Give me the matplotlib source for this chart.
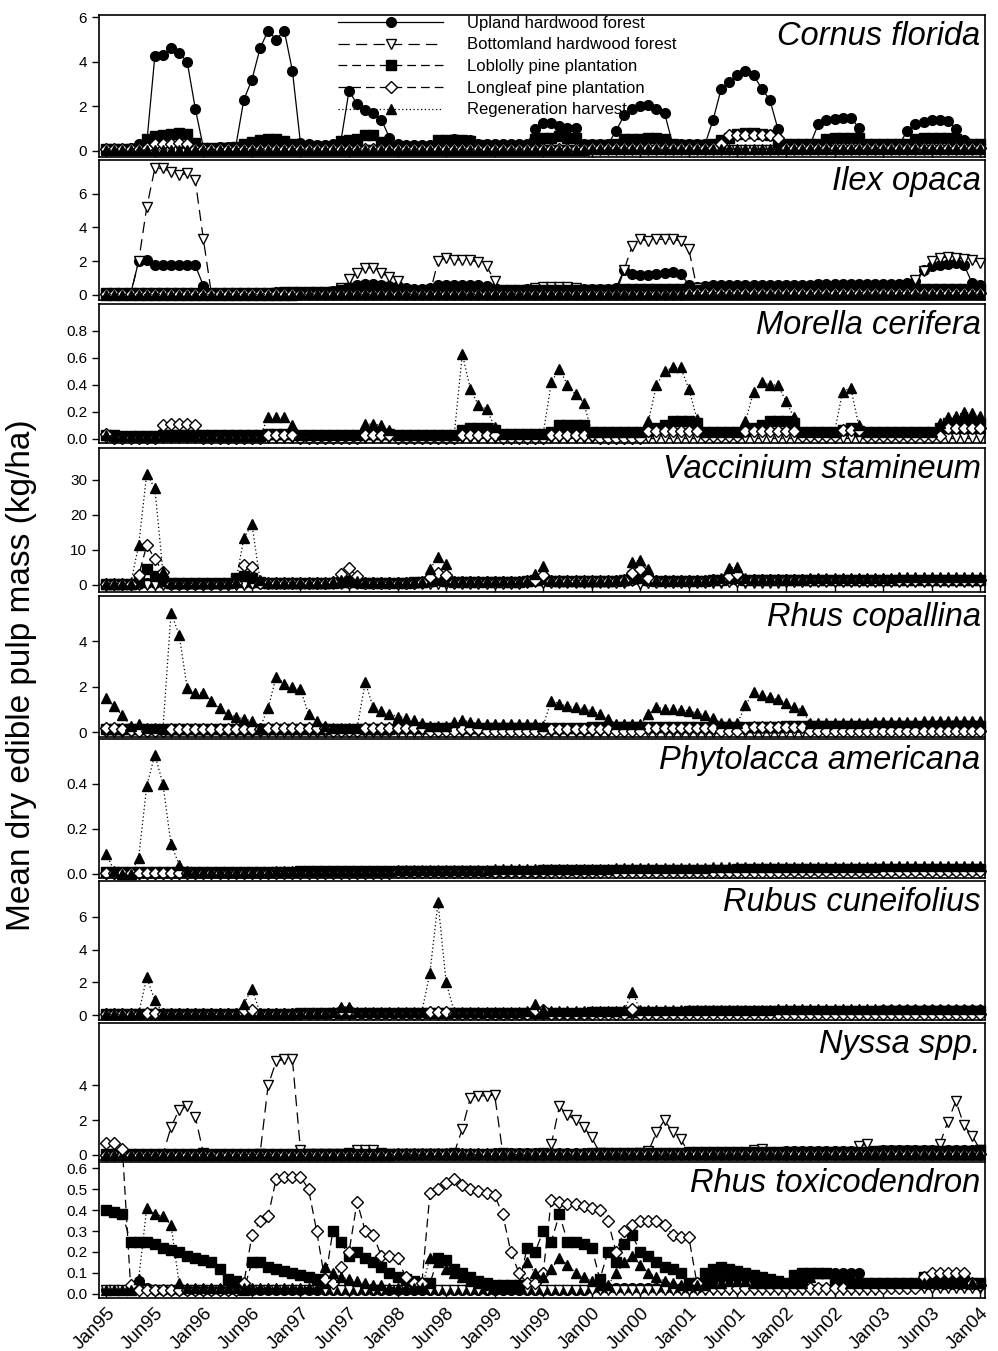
import numpy as np
import matplotlib
matplotlib.use("Agg")
import matplotlib.pyplot as plt

plt.rcParams['font.family'] = ['Liberation Sans', 'DejaVu Sans']

# ---- data: monthly values Jan95 .. Jan04 (109 months), one row per year ----
series_names = ['Upland hardwood forest', 'Bottomland hardwood forest',
                'Loblolly pine plantation', 'Longleaf pine plantation',
                'Regeneration harvest']

tick_labels = ['Jan95', 'Jun95', 'Jan96', 'Jun96', 'Jan97', 'Jun97', 'Jan98', 'Jun98',
               'Jan99', 'Jun99', 'Jan00', 'Jun00', 'Jan01', 'Jun01', 'Jan02', 'Jun02',
               'Jan03', 'Jun03', 'Jan04']

# Cornus florida
cornus_upland = [
    0.10, 0.10, 0.10, 0.12, 0.30, 0.35, 4.25, 4.30, 4.60, 4.40, 4.00, 1.90,
    0.15, 0.15, 0.18, 0.20, 0.20, 2.30, 3.20, 4.60, 5.40, 5.00, 5.40, 3.60,
    0.35, 0.30, 0.25, 0.25, 0.30, 0.45, 2.70, 2.10, 1.85, 1.70, 1.40, 0.60,
    0.30, 0.25, 0.25, 0.25, 0.25, 0.30, 0.50, 0.55, 0.50, 0.50, 0.30, 0.30,
    0.30, 0.30, 0.30, 0.30, 0.30, 1.00, 1.25, 1.25, 1.10, 1.05, 1.05, 0.30,
    0.30, 0.30, 0.30, 0.90, 1.60, 1.90, 2.00, 2.05, 1.90, 1.70, 0.30, 0.30,
    0.30, 0.30, 0.30, 1.40, 2.80, 3.10, 3.40, 3.60, 3.40, 2.80, 2.30, 1.00,
    0.30, 0.30, 0.30, 0.30, 1.20, 1.40, 1.45, 1.50, 1.50, 1.05, 0.30, 0.30,
    0.30, 0.30, 0.30, 0.90, 1.20, 1.30, 1.40, 1.40, 1.35, 1.00, 0.50, 0.30,
    0.30]
cornus_bottomland = [
    0.05, 0.05, 0.05, 0.05, 0.05, 0.10, 0.15, 0.15, 0.15, 0.15, 0.10, 0.05,
    0.05, 0.05, 0.05, 0.05, 0.05, 0.05, 0.05, 0.05, 0.05, 0.05, 0.05, 0.05,
    0.05, 0.05, 0.05, 0.05, 0.05, 0.05, 0.05, 0.05, 0.05, 0.05, 0.05, 0.05,
    0.05, 0.05, 0.05, 0.05, 0.05, 0.05, 0.05, 0.05, 0.05, 0.05, 0.05, 0.05,
    0.05, 0.05, 0.05, 0.05, 0.05, 0.05, 0.05, 0.05, 0.05, 0.05, 0.05, 0.05,
    0.05, 0.05, 0.05, 0.05, 0.05, 0.05, 0.05, 0.05, 0.05, 0.05, 0.05, 0.05,
    0.05, 0.05, 0.05, 0.05, 0.05, 0.05, 0.05, 0.05, 0.05, 0.05, 0.05, 0.05,
    0.05, 0.05, 0.05, 0.05, 0.05, 0.05, 0.05, 0.05, 0.05, 0.05, 0.05, 0.05,
    0.05, 0.05, 0.05, 0.05, 0.05, 0.05, 0.05, 0.05, 0.05, 0.05, 0.05, 0.05,
    0.05]
cornus_loblolly = [
    0.10, 0.10, 0.10, 0.10, 0.10, 0.55, 0.65, 0.70, 0.75, 0.80, 0.75, 0.35,
    0.15, 0.15, 0.15, 0.15, 0.20, 0.30, 0.40, 0.50, 0.55, 0.55, 0.45, 0.30,
    0.20, 0.20, 0.20, 0.20, 0.20, 0.45, 0.50, 0.55, 0.70, 0.70, 0.40, 0.20,
    0.20, 0.20, 0.20, 0.20, 0.20, 0.50, 0.50, 0.50, 0.50, 0.45, 0.25, 0.20,
    0.20, 0.20, 0.20, 0.20, 0.20, 0.55, 0.60, 0.60, 0.65, 0.60, 0.60, 0.25,
    0.25, 0.25, 0.25, 0.30, 0.55, 0.55, 0.55, 0.60, 0.60, 0.55, 0.30, 0.25,
    0.25, 0.25, 0.25, 0.30, 0.50, 0.60, 0.75, 0.80, 0.80, 0.75, 0.70, 0.40,
    0.30, 0.30, 0.30, 0.30, 0.30, 0.55, 0.60, 0.60, 0.60, 0.60, 0.30, 0.30,
    0.30, 0.30, 0.30, 0.30, 0.55, 0.60, 0.60, 0.60, 0.60, 0.55, 0.35, 0.30,
    0.30]
cornus_longleaf = [
    0.10, 0.10, 0.10, 0.10, 0.10, 0.15, 0.30, 0.30, 0.30, 0.35, 0.30, 0.10,
    0.10, 0.10, 0.10, 0.10, 0.10, 0.10, 0.10, 0.10, 0.10, 0.10, 0.10, 0.10,
    0.10, 0.10, 0.10, 0.10, 0.10, 0.10, 0.10, 0.10, 0.10, 0.10, 0.10, 0.10,
    0.10, 0.10, 0.10, 0.10, 0.10, 0.10, 0.10, 0.10, 0.10, 0.10, 0.10, 0.10,
    0.10, 0.10, 0.10, 0.10, 0.10, 0.10, 0.10, 0.10, 0.10, 0.10, 0.10, 0.10,
    0.15, 0.15, 0.15, 0.15, 0.15, 0.15, 0.15, 0.15, 0.15, 0.15, 0.15, 0.15,
    0.15, 0.15, 0.15, 0.15, 0.30, 0.70, 0.70, 0.70, 0.70, 0.70, 0.70, 0.60,
    0.15, 0.15, 0.15, 0.15, 0.15, 0.15, 0.15, 0.15, 0.15, 0.15, 0.15, 0.15,
    0.15, 0.15, 0.15, 0.15, 0.15, 0.15, 0.15, 0.15, 0.15, 0.15, 0.15, 0.15,
    0.15]
cornus_regen = [
    0.05, 0.05, 0.05, 0.05, 0.05, 0.05, 0.05, 0.05, 0.05, 0.05, 0.05, 0.05,
    0.05, 0.05, 0.05, 0.05, 0.05, 0.05, 0.05, 0.05, 0.05, 0.05, 0.05, 0.05,
    0.05, 0.05, 0.05, 0.05, 0.05, 0.05, 0.05, 0.05, 0.05, 0.05, 0.05, 0.05,
    0.05, 0.05, 0.05, 0.05, 0.05, 0.05, 0.05, 0.05, 0.05, 0.05, 0.05, 0.05,
    0.05, 0.05, 0.05, 0.05, 0.05, 0.05, 0.05, 0.05, 0.05, 0.05, 0.05, 0.05,
    0.08, 0.08, 0.08, 0.08, 0.08, 0.08, 0.08, 0.08, 0.08, 0.08, 0.08, 0.08,
    0.08, 0.08, 0.08, 0.08, 0.08, 0.08, 0.08, 0.08, 0.08, 0.08, 0.08, 0.08,
    0.08, 0.08, 0.08, 0.08, 0.08, 0.08, 0.08, 0.08, 0.08, 0.08, 0.08, 0.08,
    0.08, 0.08, 0.08, 0.08, 0.08, 0.08, 0.08, 0.08, 0.08, 0.08, 0.08, 0.08,
    0.08]

# Ilex opaca
ilex_upland = [
    0.05, 0.05, 0.05, 0.05, 2.00, 2.10, 1.80, 1.80, 1.75, 1.75, 1.80, 1.75,
    0.55, 0.10, 0.10, 0.10, 0.10, 0.10, 0.12, 0.12, 0.12, 0.15, 0.15, 0.15,
    0.15, 0.15, 0.15, 0.20, 0.25, 0.35, 0.50, 0.60, 0.65, 0.65, 0.60, 0.55,
    0.55, 0.40, 0.35, 0.35, 0.40, 0.60, 0.60, 0.60, 0.60, 0.60, 0.60, 0.55,
    0.40, 0.30, 0.30, 0.30, 0.35, 0.40, 0.40, 0.40, 0.40, 0.40, 0.40, 0.35,
    0.35, 0.35, 0.35, 0.40, 1.50, 1.25, 1.20, 1.20, 1.25, 1.30, 1.35, 1.25,
    0.60, 0.45, 0.55, 0.60, 0.60, 0.60, 0.60, 0.60, 0.60, 0.60, 0.60, 0.60,
    0.60, 0.60, 0.60, 0.60, 0.62, 0.62, 0.65, 0.65, 0.65, 0.65, 0.65, 0.65,
    0.65, 0.65, 0.65, 0.70, 0.80, 1.50, 1.70, 1.80, 1.85, 1.90, 1.80, 0.70,
    0.60]
ilex_bottomland = [
    0.00, 0.00, 0.00, 0.00, 2.00, 5.20, 7.50, 7.50, 7.30, 7.10, 7.20, 6.80,
    3.30, 0.05, 0.05, 0.05, 0.05, 0.05, 0.05, 0.05, 0.05, 0.05, 0.05, 0.05,
    0.05, 0.05, 0.10, 0.10, 0.20, 0.40, 0.95, 1.30, 1.60, 1.60, 1.30, 1.05,
    0.85, 0.20, 0.10, 0.10, 0.10, 2.00, 2.20, 2.10, 2.05, 2.05, 1.95, 1.70,
    0.85, 0.10, 0.10, 0.10, 0.20, 0.40, 0.45, 0.45, 0.45, 0.45, 0.40, 0.20,
    0.10, 0.10, 0.10, 0.10, 1.50, 2.90, 3.30, 3.20, 3.30, 3.30, 3.30, 3.20,
    2.70, 0.40, 0.10, 0.10, 0.10, 0.10, 0.10, 0.10, 0.10, 0.10, 0.10, 0.10,
    0.10, 0.10, 0.10, 0.10, 0.10, 0.10, 0.10, 0.10, 0.10, 0.10, 0.10, 0.10,
    0.10, 0.10, 0.10, 0.10, 0.90, 1.40, 2.00, 2.20, 2.25, 2.20, 2.15, 2.10,
    1.90]
ilex_loblolly = [
    0.10, 0.10, 0.10, 0.10, 0.10, 0.10, 0.10, 0.10, 0.10, 0.10, 0.10, 0.10,
    0.10, 0.10, 0.10, 0.10, 0.10, 0.10, 0.10, 0.10, 0.10, 0.10, 0.15, 0.15,
    0.15, 0.15, 0.15, 0.20, 0.20, 0.30, 0.35, 0.40, 0.40, 0.40, 0.40, 0.35,
    0.30, 0.30, 0.25, 0.25, 0.30, 0.35, 0.35, 0.35, 0.35, 0.35, 0.35, 0.35,
    0.30, 0.30, 0.30, 0.30, 0.30, 0.30, 0.30, 0.30, 0.30, 0.30, 0.30, 0.30,
    0.30, 0.30, 0.30, 0.30, 0.35, 0.35, 0.35, 0.35, 0.35, 0.35, 0.35, 0.35,
    0.35, 0.30, 0.30, 0.30, 0.30, 0.30, 0.30, 0.30, 0.30, 0.30, 0.30, 0.30,
    0.30, 0.30, 0.30, 0.30, 0.30, 0.30, 0.30, 0.30, 0.30, 0.30, 0.30, 0.30,
    0.30, 0.30, 0.30, 0.30, 0.35, 0.35, 0.35, 0.35, 0.35, 0.35, 0.35, 0.35,
    0.35]
ilex_longleaf = [
    0.05, 0.05, 0.05, 0.05, 0.05, 0.05, 0.05, 0.05, 0.05, 0.05, 0.05, 0.05,
    0.05, 0.05, 0.05, 0.05, 0.05, 0.05, 0.05, 0.05, 0.05, 0.05, 0.05, 0.05,
    0.05, 0.05, 0.05, 0.05, 0.05, 0.05, 0.05, 0.05, 0.05, 0.05, 0.05, 0.05,
    0.05, 0.05, 0.05, 0.05, 0.05, 0.05, 0.05, 0.05, 0.05, 0.05, 0.05, 0.05,
    0.05, 0.05, 0.05, 0.05, 0.05, 0.05, 0.05, 0.05, 0.05, 0.05, 0.05, 0.05,
    0.05, 0.05, 0.05, 0.05, 0.05, 0.05, 0.05, 0.05, 0.05, 0.05, 0.05, 0.05,
    0.10, 0.10, 0.10, 0.10, 0.10, 0.10, 0.10, 0.10, 0.10, 0.10, 0.10, 0.10,
    0.10, 0.10, 0.10, 0.10, 0.10, 0.10, 0.10, 0.10, 0.10, 0.10, 0.10, 0.10,
    0.10, 0.10, 0.10, 0.10, 0.10, 0.10, 0.10, 0.10, 0.10, 0.10, 0.10, 0.10,
    0.10]
ilex_regen = [
    0.02, 0.02, 0.02, 0.02, 0.02, 0.02, 0.02, 0.02, 0.02, 0.02, 0.02, 0.02,
    0.02, 0.02, 0.02, 0.02, 0.02, 0.02, 0.02, 0.02, 0.02, 0.02, 0.02, 0.02,
    0.03, 0.03, 0.03, 0.03, 0.03, 0.03, 0.03, 0.03, 0.03, 0.03, 0.03, 0.03,
    0.03, 0.03, 0.03, 0.03, 0.03, 0.03, 0.03, 0.03, 0.03, 0.03, 0.03, 0.03,
    0.05, 0.05, 0.05, 0.05, 0.05, 0.05, 0.05, 0.05, 0.05, 0.05, 0.05, 0.05,
    0.05, 0.05, 0.05, 0.05, 0.05, 0.05, 0.05, 0.05, 0.05, 0.05, 0.05, 0.05,
    0.05, 0.05, 0.05, 0.05, 0.05, 0.05, 0.05, 0.05, 0.05, 0.05, 0.05, 0.05,
    0.05, 0.05, 0.05, 0.05, 0.05, 0.05, 0.05, 0.05, 0.05, 0.05, 0.05, 0.05,
    0.05, 0.05, 0.05, 0.05, 0.05, 0.05, 0.05, 0.05, 0.05, 0.05, 0.05, 0.05,
    0.05]

# Morella cerifera
morella_upland = [
    0.03, 0.02, 0.02, 0.02, 0.02, 0.02, 0.02, 0.02, 0.02, 0.02, 0.02, 0.02,
    0.02, 0.02, 0.02, 0.02, 0.02, 0.02, 0.02, 0.02, 0.03, 0.03, 0.03, 0.03,
    0.03, 0.03, 0.03, 0.03, 0.03, 0.03, 0.03, 0.03, 0.03, 0.03, 0.03, 0.03,
    0.03, 0.03, 0.03, 0.03, 0.03, 0.03, 0.03, 0.03, 0.04, 0.04, 0.04, 0.04,
    0.04, 0.04, 0.04, 0.04, 0.04, 0.04, 0.04, 0.04, 0.05, 0.05, 0.05, 0.05,
    0.05, 0.05, 0.05, 0.05, 0.05, 0.05, 0.05, 0.05, 0.05, 0.05, 0.05, 0.05,
    0.05, 0.05, 0.05, 0.05, 0.05, 0.05, 0.05, 0.05, 0.05, 0.05, 0.05, 0.05,
    0.05, 0.05, 0.05, 0.05, 0.05, 0.05, 0.05, 0.05, 0.05, 0.05, 0.05, 0.05,
    0.05, 0.05, 0.05, 0.05, 0.05, 0.05, 0.05, 0.05, 0.05, 0.05, 0.05, 0.05,
    0.05]
morella_bottomland = [
    0.01, 0.01, 0.01, 0.01, 0.01, 0.01, 0.01, 0.01, 0.01, 0.01, 0.01, 0.01,
    0.01, 0.01, 0.01, 0.01, 0.01, 0.01, 0.01, 0.01, 0.01, 0.01, 0.01, 0.01,
    0.01, 0.01, 0.01, 0.01, 0.01, 0.01, 0.01, 0.01, 0.01, 0.01, 0.01, 0.01,
    0.01, 0.01, 0.01, 0.01, 0.01, 0.01, 0.01, 0.01, 0.01, 0.01, 0.01, 0.01,
    0.01, 0.01, 0.01, 0.01, 0.01, 0.01, 0.01, 0.01, 0.01, 0.01, 0.01, 0.01,
    0.01, 0.01, 0.01, 0.01, 0.01, 0.01, 0.01, 0.01, 0.01, 0.01, 0.01, 0.01,
    0.01, 0.01, 0.01, 0.01, 0.01, 0.01, 0.01, 0.01, 0.01, 0.01, 0.01, 0.01,
    0.01, 0.01, 0.01, 0.01, 0.01, 0.01, 0.01, 0.01, 0.01, 0.01, 0.01, 0.01,
    0.01, 0.01, 0.01, 0.01, 0.01, 0.01, 0.01, 0.01, 0.01, 0.01, 0.01, 0.01,
    0.01]
morella_loblolly = [
    0.03, 0.03, 0.02, 0.02, 0.02, 0.02, 0.02, 0.03, 0.03, 0.03, 0.03, 0.03,
    0.03, 0.03, 0.03, 0.03, 0.03, 0.03, 0.03, 0.03, 0.04, 0.04, 0.04, 0.04,
    0.03, 0.03, 0.03, 0.03, 0.03, 0.03, 0.03, 0.03, 0.04, 0.04, 0.04, 0.04,
    0.03, 0.03, 0.03, 0.03, 0.03, 0.03, 0.03, 0.03, 0.07, 0.08, 0.08, 0.08,
    0.07, 0.04, 0.04, 0.04, 0.04, 0.04, 0.04, 0.05, 0.10, 0.10, 0.10, 0.10,
    0.05, 0.05, 0.05, 0.05, 0.05, 0.05, 0.05, 0.06, 0.08, 0.10, 0.13, 0.13,
    0.13, 0.12, 0.05, 0.05, 0.05, 0.05, 0.05, 0.06, 0.08, 0.10, 0.13, 0.13,
    0.13, 0.12, 0.05, 0.05, 0.05, 0.05, 0.05, 0.07, 0.08, 0.06, 0.05, 0.05,
    0.05, 0.05, 0.05, 0.05, 0.05, 0.05, 0.05, 0.08, 0.12, 0.12, 0.12, 0.12,
    0.12]
morella_longleaf = [
    0.035, 0.01, 0.01, 0.01, 0.01, 0.01, 0.01, 0.10, 0.11, 0.11, 0.11, 0.10,
    0.01, 0.01, 0.01, 0.01, 0.01, 0.01, 0.01, 0.01, 0.03, 0.03, 0.03, 0.03,
    0.01, 0.01, 0.01, 0.01, 0.01, 0.01, 0.01, 0.01, 0.03, 0.03, 0.03, 0.03,
    0.01, 0.01, 0.01, 0.01, 0.01, 0.01, 0.01, 0.01, 0.03, 0.03, 0.03, 0.03,
    0.03, 0.01, 0.01, 0.01, 0.01, 0.01, 0.01, 0.03, 0.03, 0.03, 0.03, 0.03,
    0.03, 0.01, 0.01, 0.01, 0.01, 0.01, 0.01, 0.06, 0.06, 0.06, 0.06, 0.06,
    0.06, 0.06, 0.02, 0.02, 0.02, 0.02, 0.02, 0.06, 0.06, 0.06, 0.06, 0.06,
    0.06, 0.06, 0.02, 0.02, 0.02, 0.02, 0.02, 0.07, 0.07, 0.07, 0.02, 0.02,
    0.02, 0.02, 0.02, 0.02, 0.02, 0.02, 0.02, 0.02, 0.08, 0.08, 0.08, 0.08,
    0.08]
morella_regen = [
    0.03, 0.02, 0.02, 0.02, 0.02, 0.02, 0.02, 0.02, 0.02, 0.02, 0.02, 0.02,
    0.02, 0.02, 0.02, 0.02, 0.02, 0.02, 0.02, 0.02, 0.16, 0.16, 0.16, 0.10,
    0.03, 0.03, 0.03, 0.03, 0.03, 0.03, 0.03, 0.03, 0.11, 0.11, 0.10, 0.07,
    0.03, 0.03, 0.03, 0.03, 0.03, 0.03, 0.03, 0.03, 0.63, 0.37, 0.25, 0.22,
    0.09, 0.04, 0.04, 0.04, 0.04, 0.04, 0.04, 0.42, 0.52, 0.40, 0.33, 0.27,
    0.05, 0.05, 0.05, 0.05, 0.05, 0.05, 0.05, 0.13, 0.40, 0.50, 0.53, 0.53,
    0.37, 0.15, 0.05, 0.05, 0.05, 0.05, 0.05, 0.13, 0.35, 0.42, 0.40, 0.40,
    0.28, 0.16, 0.05, 0.05, 0.05, 0.05, 0.05, 0.35, 0.38, 0.10, 0.05, 0.05,
    0.05, 0.05, 0.05, 0.05, 0.05, 0.05, 0.05, 0.12, 0.16, 0.17, 0.20, 0.19,
    0.17]

# Vaccinium stamineum
vacc_upland = [
    0.3, 0.3, 0.3, 0.3, 0.4, 0.5, 0.5, 0.5, 0.4, 0.4, 0.4, 0.4,
    0.4, 0.4, 0.4, 0.5, 0.5, 0.6, 0.6, 0.5, 0.5, 0.5, 0.5, 0.5,
    0.5, 0.5, 0.6, 0.6, 0.6, 0.7, 0.7, 0.7, 0.7, 0.7, 0.7, 0.7,
    0.7, 0.7, 0.7, 0.8, 0.9, 1.0, 1.0, 0.9, 0.9, 0.9, 0.9, 0.9,
    0.9, 0.9, 0.9, 0.9, 1.0, 1.1, 1.2, 1.0, 1.0, 1.0, 1.0, 1.0,
    1.0, 1.0, 1.0, 1.1, 1.2, 1.3, 1.3, 1.2, 1.2, 1.2, 1.2, 1.2,
    1.2, 1.2, 1.2, 1.3, 1.3, 1.4, 1.4, 1.3, 1.3, 1.3, 1.3, 1.3,
    1.3, 1.3, 1.3, 1.4, 1.4, 1.4, 1.4, 1.4, 1.4, 1.4, 1.4, 1.4,
    1.4, 1.4, 1.5, 1.5, 1.5, 1.5, 1.5, 1.5, 1.5, 1.5, 1.5, 1.5,
    1.5]
vacc_bottomland = [
    0.1, 0.1, 0.1, 0.1, 0.1, 0.0, 0.0, 0.1, 0.1, 0.1, 0.1, 0.1,
    0.1, 0.1, 0.1, 0.1, 0.1, 0.0, 0.3, 0.2, 0.2, 0.2, 0.2, 0.2,
    0.2, 0.2, 0.2, 0.2, 0.3, 0.3, 0.3, 0.3, 0.3, 0.3, 0.3, 0.3,
    0.3, 0.3, 0.3, 0.3, 0.4, 0.4, 0.4, 0.4, 0.4, 0.4, 0.4, 0.4,
    0.4, 0.4, 0.4, 0.4, 0.5, 0.8, 0.5, 0.5, 0.5, 0.5, 0.5, 0.5,
    0.5, 0.5, 0.5, 0.5, 0.6, 1.0, 0.3, 0.6, 0.6, 0.6, 0.6, 0.6,
    0.6, 0.6, 0.6, 0.7, 0.7, 0.8, 0.8, 0.7, 0.7, 0.7, 0.7, 0.7,
    0.8, 0.8, 0.8, 0.8, 0.8, 0.8, 0.8, 0.8, 0.8, 0.8, 0.8, 0.8,
    0.9, 0.9, 0.9, 0.9, 0.9, 0.9, 0.9, 0.9, 0.9, 0.9, 0.9, 0.9,
    0.9]
vacc_loblolly = [
    0.3, 0.3, 0.3, 0.3, 0.8, 4.5, 2.5, 1.0, 0.5, 0.5, 0.5, 0.5,
    0.5, 0.5, 0.5, 0.6, 2.0, 2.5, 2.0, 0.8, 0.6, 0.6, 0.6, 0.6,
    0.6, 0.6, 0.6, 0.7, 0.7, 0.9, 1.0, 0.8, 0.7, 0.7, 0.7, 0.7,
    0.7, 0.7, 0.8, 0.8, 1.2, 1.5, 1.2, 0.9, 0.9, 0.9, 0.9, 0.9,
    0.9, 0.9, 0.9, 0.9, 1.0, 1.5, 1.6, 1.0, 1.0, 1.0, 1.0, 1.0,
    1.0, 1.0, 1.0, 1.1, 1.3, 2.0, 2.0, 1.5, 1.2, 1.2, 1.2, 1.2,
    1.2, 1.2, 1.2, 1.3, 1.5, 2.0, 2.0, 1.4, 1.3, 1.3, 1.3, 1.3,
    1.3, 1.3, 1.3, 1.4, 1.4, 1.4, 1.4, 1.4, 1.4, 1.4, 1.4, 1.4,
    1.5, 1.5, 1.5, 1.5, 1.5, 1.5, 1.5, 1.5, 1.5, 1.5, 1.5, 1.5,
    1.5]
vacc_longleaf = [
    0.2, 0.2, 0.2, 0.2, 2.7, 11.3, 7.5, 3.6, 0.4, 0.4, 0.4, 0.4,
    0.4, 0.4, 0.4, 0.4, 0.6, 5.6, 5.1, 0.6, 0.5, 0.5, 0.5, 0.5,
    0.5, 0.5, 0.5, 0.6, 0.8, 3.0, 4.8, 2.5, 0.7, 0.7, 0.7, 0.7,
    0.7, 0.7, 0.7, 0.8, 2.3, 3.5, 2.7, 0.9, 0.9, 0.9, 0.9, 0.9,
    0.9, 0.9, 0.9, 0.9, 1.0, 1.5, 2.8, 1.1, 1.0, 1.0, 1.0, 1.0,
    1.0, 1.0, 1.0, 1.1, 1.3, 3.5, 4.5, 2.0, 1.2, 1.2, 1.2, 1.2,
    1.2, 1.2, 1.2, 1.3, 1.4, 2.5, 3.0, 1.4, 1.3, 1.3, 1.3, 1.3,
    1.3, 1.3, 1.3, 1.4, 1.4, 1.4, 1.4, 1.4, 1.4, 1.4, 1.4, 1.4,
    1.5, 1.5, 1.5, 1.5, 1.5, 1.5, 1.5, 1.5, 1.5, 1.5, 1.5, 1.5,
    1.5]
vacc_regen = [
    0.3, 0.3, 0.3, 0.3, 11.3, 31.7, 27.5, 3.8, 0.6, 0.5, 0.5, 0.5,
    0.5, 0.5, 0.5, 0.5, 0.8, 13.3, 17.3, 1.5, 0.6, 0.6, 0.6, 0.6,
    0.6, 0.6, 0.7, 0.7, 0.8, 1.5, 1.8, 1.2, 0.8, 0.8, 0.8, 0.8,
    0.8, 0.8, 0.8, 0.9, 4.5, 8.0, 6.0, 1.2, 1.0, 1.0, 1.0, 1.0,
    1.0, 1.0, 1.0, 1.0, 1.2, 3.0, 5.5, 1.5, 1.2, 1.2, 1.2, 1.2,
    1.2, 1.2, 1.2, 1.3, 1.5, 6.5, 7.0, 4.5, 1.5, 1.5, 1.5, 1.5,
    1.5, 1.5, 1.5, 1.6, 2.0, 4.8, 5.2, 2.0, 1.8, 1.8, 1.8, 1.8,
    1.8, 1.8, 1.8, 1.9, 1.9, 1.9, 2.0, 2.0, 2.0, 2.0, 2.0, 2.1,
    2.1, 2.1, 2.2, 2.2, 2.2, 2.2, 2.3, 2.3, 2.3, 2.3, 2.3, 2.3,
    2.3]

# Rhus copallina
rcop_upland = [
    0.10, 0.10, 0.10, 0.10, 0.10, 0.10, 0.10, 0.10, 0.10, 0.10, 0.10, 0.10,
    0.10, 0.10, 0.10, 0.10, 0.10, 0.10, 0.10, 0.10, 0.10, 0.10, 0.10, 0.10,
    0.10, 0.10, 0.10, 0.10, 0.10, 0.10, 0.10, 0.10, 0.10, 0.10, 0.10, 0.10,
    0.15, 0.15, 0.15, 0.15, 0.15, 0.15, 0.15, 0.15, 0.15, 0.15, 0.15, 0.15,
    0.15, 0.15, 0.15, 0.15, 0.15, 0.15, 0.15, 0.15, 0.15, 0.15, 0.15, 0.15,
    0.20, 0.20, 0.20, 0.20, 0.20, 0.20, 0.20, 0.20, 0.20, 0.20, 0.20, 0.20,
    0.20, 0.20, 0.20, 0.20, 0.20, 0.20, 0.20, 0.20, 0.20, 0.20, 0.20, 0.20,
    0.25, 0.25, 0.25, 0.25, 0.25, 0.25, 0.25, 0.25, 0.25, 0.25, 0.25, 0.25,
    0.25, 0.25, 0.25, 0.25, 0.25, 0.25, 0.25, 0.25, 0.25, 0.25, 0.25, 0.25,
    0.25]
rcop_bottomland = [
    0.02, 0.02, 0.02, 0.02, 0.00, 0.00, 0.00, 0.00, 0.02, 0.02, 0.02, 0.02,
    0.02, 0.02, 0.02, 0.02, 0.02, 0.02, 0.02, 0.02, 0.02, 0.02, 0.02, 0.02,
    0.02, 0.02, 0.02, 0.02, 0.00, 0.00, 0.00, 0.00, 0.02, 0.02, 0.02, 0.02,
    0.02, 0.02, 0.02, 0.02, 0.00, 0.00, 0.00, 0.02, 0.02, 0.02, 0.00, 0.00,
    0.00, 0.00, 0.02, 0.02, 0.02, 0.02, 0.02, 0.02, 0.02, 0.02, 0.02, 0.02,
    0.02, 0.02, 0.02, 0.02, 0.02, 0.02, 0.02, 0.02, 0.02, 0.02, 0.02, 0.02,
    0.02, 0.02, 0.02, 0.02, 0.02, 0.02, 0.02, 0.02, 0.02, 0.02, 0.02, 0.02,
    0.02, 0.02, 0.02, 0.02, 0.02, 0.02, 0.02, 0.02, 0.02, 0.02, 0.02, 0.02,
    0.02, 0.02, 0.02, 0.02, 0.02, 0.02, 0.02, 0.02, 0.02, 0.02, 0.02, 0.02,
    0.02]
rcop_loblolly = [
    0.15, 0.15, 0.15, 0.15, 0.15, 0.15, 0.15, 0.15, 0.15, 0.15, 0.15, 0.15,
    0.15, 0.15, 0.15, 0.15, 0.15, 0.15, 0.15, 0.15, 0.15, 0.15, 0.15, 0.15,
    0.15, 0.15, 0.15, 0.15, 0.15, 0.15, 0.15, 0.15, 0.15, 0.15, 0.15, 0.15,
    0.20, 0.20, 0.20, 0.20, 0.20, 0.20, 0.20, 0.20, 0.20, 0.20, 0.20, 0.20,
    0.20, 0.20, 0.20, 0.20, 0.20, 0.20, 0.20, 0.20, 0.20, 0.20, 0.20, 0.20,
    0.25, 0.25, 0.25, 0.25, 0.25, 0.25, 0.25, 0.25, 0.25, 0.25, 0.25, 0.25,
    0.25, 0.25, 0.25, 0.25, 0.25, 0.25, 0.25, 0.25, 0.25, 0.25, 0.25, 0.25,
    0.30, 0.30, 0.30, 0.30, 0.30, 0.30, 0.30, 0.30, 0.30, 0.30, 0.30, 0.30,
    0.30, 0.30, 0.30, 0.30, 0.30, 0.30, 0.30, 0.30, 0.30, 0.30, 0.30, 0.30,
    0.30]
rcop_longleaf = [
    0.20, 0.20, 0.15, 0.10, 0.05, 0.05, 0.05, 0.05, 0.15, 0.15, 0.15, 0.15,
    0.15, 0.15, 0.15, 0.15, 0.15, 0.15, 0.15, 0.15, 0.20, 0.20, 0.20, 0.20,
    0.20, 0.20, 0.20, 0.20, 0.05, 0.05, 0.05, 0.05, 0.20, 0.20, 0.20, 0.20,
    0.20, 0.20, 0.20, 0.20, 0.05, 0.05, 0.05, 0.05, 0.15, 0.15, 0.15, 0.05,
    0.05, 0.05, 0.05, 0.05, 0.05, 0.05, 0.05, 0.15, 0.15, 0.15, 0.15, 0.15,
    0.15, 0.15, 0.15, 0.05, 0.05, 0.05, 0.05, 0.20, 0.20, 0.20, 0.20, 0.20,
    0.20, 0.20, 0.20, 0.20, 0.05, 0.05, 0.05, 0.20, 0.25, 0.25, 0.25, 0.25,
    0.25, 0.25, 0.25, 0.05, 0.05, 0.05, 0.05, 0.05, 0.05, 0.05, 0.05, 0.05,
    0.05, 0.05, 0.05, 0.05, 0.05, 0.05, 0.05, 0.05, 0.05, 0.05, 0.05, 0.05,
    0.05]
rcop_regen = [
    1.50, 1.15, 0.75, 0.30, 0.35, 0.20, 0.20, 0.15, 5.25, 4.30, 1.95, 1.75,
    1.75, 1.40, 1.07, 0.80, 0.70, 0.60, 0.50, 0.20, 1.07, 2.45, 2.15, 2.00,
    1.90, 0.80, 0.50, 0.30, 0.20, 0.20, 0.20, 0.20, 2.20, 1.10, 0.95, 0.80,
    0.70, 0.65, 0.55, 0.40, 0.30, 0.30, 0.30, 0.45, 0.55, 0.45, 0.40, 0.35,
    0.35, 0.35, 0.35, 0.35, 0.35, 0.35, 0.30, 1.40, 1.25, 1.15, 1.10, 1.05,
    0.95, 0.80, 0.60, 0.35, 0.35, 0.35, 0.35, 0.80, 1.10, 1.05, 1.05, 1.00,
    0.95, 0.85, 0.75, 0.65, 0.40, 0.40, 0.40, 1.20, 1.80, 1.65, 1.55, 1.45,
    1.30, 1.10, 1.00, 0.40, 0.40, 0.40, 0.40, 0.40, 0.40, 0.40, 0.40, 0.45,
    0.45, 0.45, 0.45, 0.45, 0.45, 0.50, 0.50, 0.50, 0.50, 0.50, 0.50, 0.50,
    0.50]

# Phytolacca americana
phyt_upland = [
    0.005, 0.005, 0.005, 0.005, 0.005, 0.005, 0.005, 0.005, 0.005, 0.005, 0.005, 0.005,
    0.006, 0.006, 0.006, 0.006, 0.006, 0.006, 0.007, 0.007, 0.007, 0.007, 0.007, 0.007,
    0.008, 0.008, 0.008, 0.008, 0.008, 0.008, 0.009, 0.009, 0.009, 0.009, 0.009, 0.009,
    0.010, 0.010, 0.010, 0.010, 0.010, 0.010, 0.011, 0.011, 0.011, 0.011, 0.011, 0.011,
    0.012, 0.012, 0.012, 0.012, 0.012, 0.012, 0.013, 0.013, 0.013, 0.013, 0.013, 0.013,
    0.014, 0.014, 0.014, 0.014, 0.014, 0.014, 0.015, 0.015, 0.015, 0.015, 0.015, 0.015,
    0.016, 0.016, 0.016, 0.016, 0.016, 0.016, 0.017, 0.017, 0.017, 0.017, 0.017, 0.017,
    0.018, 0.018, 0.018, 0.018, 0.018, 0.018, 0.019, 0.019, 0.019, 0.019, 0.019, 0.019,
    0.020, 0.020, 0.020, 0.020, 0.020, 0.020, 0.021, 0.021, 0.021, 0.021, 0.021, 0.021,
    0.021]
phyt_bottomland = [
    0.000, 0.000, 0.000, 0.000, 0.000, 0.000, 0.000, 0.000, 0.000, 0.000, 0.000, 0.000,
    0.001, 0.001, 0.001, 0.001, 0.001, 0.001, 0.001, 0.001, 0.001, 0.001, 0.001, 0.001,
    0.002, 0.002, 0.002, 0.002, 0.002, 0.002, 0.002, 0.002, 0.002, 0.002, 0.002, 0.002,
    0.003, 0.003, 0.003, 0.003, 0.003, 0.003, 0.003, 0.003, 0.003, 0.003, 0.003, 0.003,
    0.004, 0.004, 0.004, 0.004, 0.004, 0.004, 0.004, 0.004, 0.004, 0.004, 0.004, 0.004,
    0.005, 0.005, 0.005, 0.005, 0.005, 0.005, 0.005, 0.005, 0.005, 0.005, 0.005, 0.005,
    0.006, 0.006, 0.006, 0.006, 0.006, 0.006, 0.006, 0.006, 0.006, 0.006, 0.006, 0.006,
    0.007, 0.007, 0.007, 0.007, 0.007, 0.007, 0.007, 0.007, 0.007, 0.007, 0.007, 0.007,
    0.008, 0.008, 0.008, 0.008, 0.008, 0.008, 0.008, 0.008, 0.008, 0.008, 0.008, 0.008,
    0.008]
phyt_loblolly = [
    0.005, 0.005, 0.005, 0.005, 0.005, 0.005, 0.005, 0.005, 0.005, 0.006, 0.006, 0.006,
    0.007, 0.007, 0.007, 0.007, 0.007, 0.007, 0.008, 0.008, 0.008, 0.008, 0.008, 0.008,
    0.009, 0.009, 0.009, 0.009, 0.009, 0.009, 0.010, 0.010, 0.010, 0.010, 0.010, 0.010,
    0.011, 0.011, 0.011, 0.011, 0.011, 0.011, 0.012, 0.012, 0.012, 0.012, 0.012, 0.012,
    0.013, 0.013, 0.013, 0.013, 0.013, 0.013, 0.014, 0.014, 0.014, 0.014, 0.014, 0.014,
    0.015, 0.015, 0.015, 0.015, 0.015, 0.015, 0.016, 0.016, 0.016, 0.016, 0.016, 0.016,
    0.017, 0.017, 0.017, 0.017, 0.017, 0.017, 0.018, 0.018, 0.018, 0.018, 0.018, 0.018,
    0.019, 0.019, 0.019, 0.019, 0.019, 0.019, 0.020, 0.020, 0.020, 0.020, 0.020, 0.020,
    0.021, 0.021, 0.021, 0.021, 0.021, 0.021, 0.022, 0.022, 0.022, 0.022, 0.022, 0.022,
    0.022]
phyt_longleaf = [
    0.004, 0.003, 0.003, 0.003, 0.003, 0.003, 0.003, 0.003, 0.003, 0.003, 0.003, 0.003,
    0.003, 0.003, 0.003, 0.003, 0.003, 0.003, 0.003, 0.003, 0.003, 0.003, 0.003, 0.003,
    0.004, 0.004, 0.004, 0.004, 0.004, 0.004, 0.004, 0.004, 0.004, 0.004, 0.004, 0.004,
    0.005, 0.005, 0.005, 0.005, 0.005, 0.005, 0.005, 0.005, 0.005, 0.005, 0.005, 0.005,
    0.006, 0.006, 0.006, 0.006, 0.006, 0.006, 0.006, 0.006, 0.006, 0.006, 0.006, 0.006,
    0.007, 0.007, 0.007, 0.007, 0.007, 0.007, 0.007, 0.007, 0.007, 0.007, 0.007, 0.007,
    0.008, 0.008, 0.008, 0.008, 0.008, 0.008, 0.008, 0.008, 0.008, 0.008, 0.008, 0.008,
    0.009, 0.009, 0.009, 0.009, 0.009, 0.009, 0.009, 0.009, 0.009, 0.009, 0.009, 0.009,
    0.010, 0.010, 0.010, 0.010, 0.010, 0.010, 0.010, 0.010, 0.010, 0.010, 0.010, 0.010,
    0.010]
phyt_regen = [
    0.087, 0.010, 0.000, 0.000, 0.070, 0.390, 0.530, 0.400, 0.130, 0.040, 0.010, 0.006,
    0.006, 0.006, 0.006, 0.007, 0.007, 0.007, 0.008, 0.008, 0.008, 0.009, 0.009, 0.009,
    0.010, 0.010, 0.010, 0.011, 0.011, 0.011, 0.012, 0.012, 0.012, 0.013, 0.013, 0.013,
    0.014, 0.014, 0.014, 0.015, 0.015, 0.015, 0.016, 0.016, 0.016, 0.017, 0.017, 0.017,
    0.018, 0.018, 0.018, 0.019, 0.019, 0.019, 0.020, 0.020, 0.020, 0.021, 0.021, 0.021,
    0.022, 0.022, 0.022, 0.023, 0.023, 0.023, 0.024, 0.024, 0.024, 0.025, 0.025, 0.025,
    0.026, 0.026, 0.026, 0.027, 0.027, 0.027, 0.028, 0.028, 0.028, 0.029, 0.029, 0.029,
    0.030, 0.030, 0.030, 0.030, 0.030, 0.030, 0.031, 0.031, 0.031, 0.031, 0.031, 0.031,
    0.032, 0.032, 0.032, 0.032, 0.032, 0.032, 0.033, 0.033, 0.033, 0.033, 0.033, 0.033,
    0.033]

# Rubus cuneifolius
rubus_upland = [
    0.05, 0.05, 0.05, 0.05, 0.05, 0.05, 0.05, 0.05, 0.05, 0.05, 0.05, 0.05,
    0.08, 0.08, 0.08, 0.08, 0.08, 0.08, 0.08, 0.08, 0.08, 0.08, 0.08, 0.08,
    0.10, 0.10, 0.10, 0.10, 0.10, 0.10, 0.10, 0.10, 0.10, 0.10, 0.10, 0.10,
    0.12, 0.12, 0.12, 0.12, 0.12, 0.12, 0.12, 0.12, 0.12, 0.12, 0.12, 0.12,
    0.15, 0.15, 0.15, 0.15, 0.15, 0.15, 0.15, 0.15, 0.15, 0.15, 0.15, 0.15,
    0.18, 0.18, 0.18, 0.18, 0.18, 0.18, 0.18, 0.18, 0.18, 0.18, 0.18, 0.18,
    0.20, 0.20, 0.20, 0.20, 0.20, 0.20, 0.20, 0.20, 0.20, 0.20, 0.20, 0.20,
    0.25, 0.25, 0.25, 0.25, 0.25, 0.25, 0.25, 0.25, 0.25, 0.25, 0.25, 0.25,
    0.30, 0.30, 0.30, 0.30, 0.30, 0.30, 0.30, 0.30, 0.30, 0.30, 0.30, 0.30,
    0.30]
rubus_bottomland = [
    0.02, 0.02, 0.02, 0.02, 0.02, 0.02, 0.02, 0.02, 0.02, 0.02, 0.02, 0.02,
    0.02, 0.02, 0.02, 0.02, 0.02, 0.02, 0.02, 0.02, 0.02, 0.02, 0.02, 0.02,
    0.02, 0.02, 0.02, 0.02, 0.02, 0.02, 0.02, 0.02, 0.02, 0.02, 0.02, 0.02,
    0.02, 0.02, 0.02, 0.02, 0.02, 0.02, 0.02, 0.02, 0.02, 0.02, 0.02, 0.02,
    0.02, 0.02, 0.02, 0.02, 0.02, 0.02, 0.02, 0.02, 0.02, 0.02, 0.02, 0.02,
    0.02, 0.02, 0.02, 0.02, 0.02, 0.02, 0.02, 0.02, 0.02, 0.02, 0.02, 0.02,
    0.02, 0.02, 0.02, 0.02, 0.02, 0.02, 0.02, 0.02, 0.02, 0.02, 0.02, 0.02,
    0.02, 0.02, 0.02, 0.02, 0.02, 0.02, 0.02, 0.02, 0.02, 0.02, 0.02, 0.02,
    0.02, 0.02, 0.02, 0.02, 0.02, 0.02, 0.02, 0.02, 0.02, 0.02, 0.02, 0.02,
    0.02]
rubus_loblolly = [
    0.05, 0.05, 0.05, 0.05, 0.05, 0.05, 0.05, 0.05, 0.05, 0.05, 0.05, 0.05,
    0.08, 0.08, 0.08, 0.08, 0.08, 0.08, 0.08, 0.08, 0.08, 0.08, 0.08, 0.08,
    0.10, 0.10, 0.10, 0.10, 0.10, 0.10, 0.10, 0.10, 0.10, 0.10, 0.10, 0.10,
    0.12, 0.12, 0.12, 0.12, 0.12, 0.12, 0.12, 0.12, 0.12, 0.12, 0.12, 0.12,
    0.15, 0.15, 0.15, 0.15, 0.15, 0.15, 0.15, 0.15, 0.15, 0.15, 0.15, 0.15,
    0.18, 0.18, 0.18, 0.18, 0.18, 0.18, 0.18, 0.18, 0.18, 0.18, 0.18, 0.18,
    0.22, 0.22, 0.22, 0.22, 0.22, 0.22, 0.22, 0.22, 0.22, 0.22, 0.22, 0.22,
    0.25, 0.25, 0.25, 0.25, 0.25, 0.25, 0.25, 0.25, 0.25, 0.25, 0.25, 0.25,
    0.28, 0.28, 0.28, 0.28, 0.28, 0.28, 0.28, 0.28, 0.28, 0.28, 0.28, 0.28,
    0.28]
rubus_longleaf = [
    0.05, 0.05, 0.05, 0.05, 0.05, 0.15, 0.15, 0.05, 0.05, 0.05, 0.05, 0.05,
    0.05, 0.05, 0.05, 0.05, 0.05, 0.30, 0.30, 0.05, 0.05, 0.05, 0.05, 0.05,
    0.05, 0.05, 0.05, 0.05, 0.05, 0.30, 0.30, 0.05, 0.05, 0.05, 0.05, 0.05,
    0.05, 0.05, 0.05, 0.05, 0.20, 0.20, 0.20, 0.05, 0.05, 0.05, 0.05, 0.05,
    0.05, 0.05, 0.05, 0.05, 0.05, 0.30, 0.30, 0.05, 0.05, 0.05, 0.05, 0.05,
    0.05, 0.05, 0.05, 0.05, 0.05, 0.40, 0.05, 0.05, 0.05, 0.05, 0.05, 0.05,
    0.05, 0.05, 0.05, 0.05, 0.05, 0.05, 0.05, 0.05, 0.05, 0.05, 0.05, 0.05,
    0.05, 0.05, 0.05, 0.05, 0.05, 0.05, 0.05, 0.05, 0.05, 0.05, 0.05, 0.05,
    0.05, 0.05, 0.05, 0.05, 0.05, 0.05, 0.05, 0.05, 0.05, 0.05, 0.05, 0.05,
    0.05]
rubus_regen = [
    0.05, 0.05, 0.05, 0.05, 0.10, 2.30, 0.90, 0.10, 0.10, 0.10, 0.10, 0.10,
    0.10, 0.10, 0.10, 0.10, 0.10, 0.70, 1.60, 0.15, 0.15, 0.15, 0.15, 0.15,
    0.15, 0.15, 0.15, 0.15, 0.20, 0.50, 0.50, 0.20, 0.20, 0.20, 0.20, 0.20,
    0.20, 0.20, 0.20, 0.20, 2.60, 6.90, 2.00, 0.20, 0.20, 0.20, 0.20, 0.20,
    0.20, 0.20, 0.20, 0.20, 0.25, 0.70, 0.30, 0.25, 0.25, 0.25, 0.25, 0.25,
    0.25, 0.25, 0.25, 0.25, 0.30, 1.40, 0.30, 0.30, 0.30, 0.30, 0.30, 0.30,
    0.30, 0.30, 0.30, 0.30, 0.30, 0.30, 0.30, 0.30, 0.30, 0.30, 0.30, 0.35,
    0.35, 0.35, 0.35, 0.35, 0.35, 0.35, 0.35, 0.35, 0.35, 0.35, 0.35, 0.35,
    0.35, 0.40, 0.40, 0.40, 0.40, 0.40, 0.40, 0.40, 0.40, 0.40, 0.40, 0.40,
    0.40]

# Nyssa spp.
nyssa_upland = [
    0.02, 0.02, 0.02, 0.02, 0.02, 0.02, 0.02, 0.02, 0.02, 0.02, 0.02, 0.02,
    0.03, 0.03, 0.03, 0.03, 0.03, 0.03, 0.03, 0.03, 0.03, 0.03, 0.03, 0.03,
    0.05, 0.05, 0.05, 0.05, 0.05, 0.05, 0.05, 0.05, 0.05, 0.05, 0.05, 0.05,
    0.07, 0.07, 0.07, 0.07, 0.07, 0.07, 0.07, 0.07, 0.07, 0.07, 0.07, 0.07,
    0.10, 0.10, 0.10, 0.10, 0.10, 0.10, 0.10, 0.10, 0.10, 0.10, 0.10, 0.10,
    0.12, 0.12, 0.12, 0.12, 0.12, 0.12, 0.12, 0.12, 0.12, 0.12, 0.12, 0.12,
    0.18, 0.18, 0.18, 0.18, 0.18, 0.18, 0.18, 0.18, 0.18, 0.18, 0.18, 0.18,
    0.22, 0.22, 0.22, 0.22, 0.22, 0.22, 0.22, 0.22, 0.22, 0.22, 0.22, 0.22,
    0.28, 0.28, 0.28, 0.28, 0.28, 0.28, 0.28, 0.28, 0.28, 0.28, 0.28, 0.28,
    0.30]
nyssa_bottomland = [
    0.00, 0.00, 0.00, 0.00, 0.00, 0.00, 0.00, 0.00, 1.60, 2.60, 2.80, 2.20,
    0.10, 0.00, 0.00, 0.00, 0.00, 0.00, 0.00, 0.05, 4.00, 5.40, 5.50, 5.50,
    0.30, 0.05, 0.05, 0.05, 0.05, 0.05, 0.10, 0.30, 0.30, 0.30, 0.10, 0.05,
    0.05, 0.05, 0.05, 0.05, 0.05, 0.05, 0.05, 0.10, 1.50, 3.30, 3.40, 3.40,
    3.45, 0.10, 0.05, 0.05, 0.05, 0.05, 0.10, 0.60, 2.80, 2.30, 2.00, 1.60,
    1.00, 0.10, 0.05, 0.05, 0.05, 0.05, 0.10, 0.20, 1.30, 2.00, 1.30, 0.90,
    0.10, 0.10, 0.10, 0.10, 0.10, 0.10, 0.10, 0.10, 0.30, 0.35, 0.10, 0.10,
    0.10, 0.10, 0.10, 0.10, 0.10, 0.10, 0.10, 0.10, 0.10, 0.50, 0.60, 0.20,
    0.20, 0.20, 0.20, 0.20, 0.20, 0.20, 0.20, 0.60, 1.90, 3.10, 1.70, 1.10,
    0.30]
nyssa_loblolly = [
    0.02, 0.02, 0.02, 0.02, 0.02, 0.02, 0.02, 0.02, 0.02, 0.02, 0.02, 0.02,
    0.03, 0.03, 0.03, 0.03, 0.03, 0.03, 0.03, 0.03, 0.03, 0.03, 0.03, 0.03,
    0.04, 0.04, 0.04, 0.04, 0.04, 0.04, 0.04, 0.04, 0.04, 0.04, 0.04, 0.04,
    0.05, 0.05, 0.05, 0.05, 0.05, 0.05, 0.05, 0.05, 0.05, 0.05, 0.05, 0.05,
    0.07, 0.07, 0.07, 0.07, 0.07, 0.07, 0.07, 0.07, 0.07, 0.07, 0.07, 0.07,
    0.10, 0.10, 0.10, 0.10, 0.10, 0.10, 0.10, 0.10, 0.10, 0.10, 0.10, 0.10,
    0.15, 0.15, 0.15, 0.15, 0.15, 0.15, 0.15, 0.15, 0.15, 0.15, 0.15, 0.15,
    0.18, 0.18, 0.18, 0.18, 0.18, 0.18, 0.18, 0.18, 0.18, 0.18, 0.18, 0.18,
    0.22, 0.22, 0.22, 0.22, 0.22, 0.22, 0.22, 0.22, 0.22, 0.22, 0.22, 0.22,
    0.25]
nyssa_longleaf = [
    0.00, 0.00, 0.00, 0.00, 0.00, 0.00, 0.00, 0.00, 0.00, 0.00, 0.00, 0.00,
    0.01, 0.01, 0.01, 0.01, 0.01, 0.01, 0.01, 0.01, 0.01, 0.01, 0.01, 0.01,
    0.01, 0.01, 0.01, 0.01, 0.01, 0.01, 0.01, 0.01, 0.01, 0.01, 0.01, 0.01,
    0.02, 0.02, 0.02, 0.02, 0.02, 0.02, 0.02, 0.02, 0.02, 0.02, 0.02, 0.02,
    0.02, 0.02, 0.02, 0.02, 0.02, 0.02, 0.02, 0.02, 0.02, 0.02, 0.02, 0.02,
    0.03, 0.03, 0.03, 0.03, 0.03, 0.03, 0.03, 0.03, 0.03, 0.03, 0.03, 0.03,
    0.03, 0.03, 0.03, 0.03, 0.03, 0.03, 0.03, 0.03, 0.03, 0.03, 0.03, 0.03,
    0.04, 0.04, 0.04, 0.04, 0.04, 0.04, 0.04, 0.04, 0.04, 0.04, 0.04, 0.04,
    0.05, 0.05, 0.05, 0.05, 0.05, 0.05, 0.05, 0.05, 0.05, 0.05, 0.05, 0.05,
    0.05]
nyssa_regen = [
    0.00, 0.00, 0.00, 0.00, 0.00, 0.00, 0.00, 0.00, 0.00, 0.00, 0.00, 0.00,
    0.01, 0.01, 0.01, 0.01, 0.01, 0.01, 0.01, 0.01, 0.01, 0.01, 0.01, 0.01,
    0.01, 0.01, 0.01, 0.01, 0.01, 0.01, 0.01, 0.01, 0.01, 0.01, 0.01, 0.01,
    0.02, 0.02, 0.02, 0.02, 0.02, 0.02, 0.02, 0.02, 0.02, 0.02, 0.02, 0.02,
    0.02, 0.02, 0.02, 0.02, 0.02, 0.02, 0.02, 0.02, 0.02, 0.02, 0.02, 0.02,
    0.03, 0.03, 0.03, 0.03, 0.03, 0.03, 0.03, 0.03, 0.03, 0.03, 0.03, 0.03,
    0.03, 0.03, 0.03, 0.03, 0.03, 0.03, 0.03, 0.03, 0.03, 0.03, 0.03, 0.03,
    0.04, 0.04, 0.04, 0.04, 0.04, 0.04, 0.04, 0.04, 0.04, 0.04, 0.04, 0.04,
    0.05, 0.05, 0.05, 0.05, 0.05, 0.05, 0.05, 0.05, 0.05, 0.05, 0.05, 0.05,
    0.05]

# Rhus toxicodendron
rtox_upland = [
    0.02, 0.02, 0.02, 0.02, 0.06, 0.03, 0.02, 0.02, 0.02, 0.02, 0.02, 0.02,
    0.02, 0.02, 0.02, 0.02, 0.02, 0.02, 0.02, 0.02, 0.02, 0.02, 0.02, 0.02,
    0.02, 0.02, 0.02, 0.02, 0.02, 0.02, 0.02, 0.02, 0.02, 0.02, 0.02, 0.02,
    0.02, 0.02, 0.02, 0.02, 0.02, 0.02, 0.02, 0.02, 0.02, 0.02, 0.02, 0.02,
    0.02, 0.02, 0.02, 0.02, 0.02, 0.02, 0.02, 0.02, 0.02, 0.02, 0.02, 0.02,
    0.03, 0.03, 0.03, 0.03, 0.03, 0.03, 0.03, 0.03, 0.03, 0.03, 0.03, 0.03,
    0.03, 0.03, 0.06, 0.07, 0.08, 0.08, 0.08, 0.08, 0.07, 0.06, 0.05, 0.05,
    0.05, 0.05, 0.05, 0.09, 0.10, 0.10, 0.10, 0.10, 0.10, 0.10, 0.05, 0.04,
    0.04, 0.04, 0.04, 0.04, 0.04, 0.04, 0.04, 0.04, 0.04, 0.04, 0.04, 0.04,
    0.04]
rtox_bottomland = [
    0.02, 0.02, 0.02, 0.02, 0.02, 0.02, 0.02, 0.02, 0.02, 0.02, 0.02, 0.02,
    0.02, 0.02, 0.02, 0.02, 0.02, 0.02, 0.02, 0.02, 0.02, 0.02, 0.02, 0.02,
    0.02, 0.02, 0.02, 0.02, 0.02, 0.02, 0.02, 0.02, 0.02, 0.02, 0.02, 0.02,
    0.02, 0.02, 0.02, 0.02, 0.02, 0.02, 0.02, 0.02, 0.02, 0.02, 0.02, 0.02,
    0.02, 0.02, 0.02, 0.02, 0.02, 0.02, 0.02, 0.02, 0.02, 0.02, 0.02, 0.02,
    0.02, 0.02, 0.02, 0.02, 0.02, 0.02, 0.02, 0.02, 0.02, 0.02, 0.02, 0.02,
    0.02, 0.02, 0.02, 0.02, 0.02, 0.02, 0.02, 0.02, 0.02, 0.02, 0.02, 0.02,
    0.02, 0.02, 0.02, 0.02, 0.02, 0.02, 0.02, 0.02, 0.02, 0.02, 0.02, 0.02,
    0.03, 0.03, 0.03, 0.03, 0.03, 0.03, 0.03, 0.03, 0.03, 0.03, 0.03, 0.03,
    0.03]
rtox_loblolly = [
    0.40, 0.39, 0.38, 0.25, 0.25, 0.25, 0.24, 0.22, 0.21, 0.20, 0.18, 0.17,
    0.16, 0.15, 0.12, 0.07, 0.06, 0.02, 0.15, 0.15, 0.13, 0.12, 0.11, 0.10,
    0.09, 0.08, 0.07, 0.05, 0.30, 0.25, 0.18, 0.20, 0.17, 0.15, 0.13, 0.10,
    0.08, 0.07, 0.06, 0.05, 0.05, 0.17, 0.16, 0.12, 0.10, 0.08, 0.06, 0.05,
    0.04, 0.04, 0.04, 0.04, 0.22, 0.20, 0.30, 0.25, 0.38, 0.25, 0.25, 0.24,
    0.22, 0.07, 0.20, 0.15, 0.24, 0.28, 0.20, 0.18, 0.15, 0.13, 0.12, 0.10,
    0.05, 0.05, 0.10, 0.12, 0.13, 0.12, 0.11, 0.10, 0.09, 0.08, 0.07, 0.06,
    0.05, 0.09, 0.10, 0.10, 0.10, 0.10, 0.06, 0.05, 0.05, 0.05, 0.05, 0.05,
    0.05, 0.05, 0.05, 0.05, 0.05, 0.08, 0.08, 0.08, 0.08, 0.08, 0.06, 0.05,
    0.05]
rtox_longleaf = [
    0.72, 0.72, 0.69, 0.04, 0.02, 0.02, 0.02, 0.02, 0.02, 0.02, 0.02, 0.02,
    0.02, 0.02, 0.02, 0.02, 0.02, 0.05, 0.28, 0.35, 0.37, 0.55, 0.56, 0.56,
    0.56, 0.50, 0.30, 0.07, 0.05, 0.13, 0.20, 0.44, 0.30, 0.28, 0.18, 0.18,
    0.17, 0.08, 0.05, 0.05, 0.48, 0.50, 0.53, 0.55, 0.52, 0.50, 0.49, 0.48,
    0.47, 0.38, 0.20, 0.10, 0.05, 0.05, 0.10, 0.45, 0.44, 0.43, 0.43, 0.42,
    0.41, 0.40, 0.35, 0.20, 0.30, 0.33, 0.35, 0.35, 0.35, 0.33, 0.28, 0.27,
    0.27, 0.05, 0.03, 0.03, 0.03, 0.03, 0.03, 0.03, 0.03, 0.03, 0.03, 0.03,
    0.03, 0.03, 0.03, 0.03, 0.03, 0.03, 0.03, 0.03, 0.03, 0.03, 0.03, 0.03,
    0.03, 0.03, 0.03, 0.03, 0.03, 0.08, 0.10, 0.10, 0.10, 0.10, 0.10, 0.05,
    0.04]
rtox_regen = [
    0.02, 0.02, 0.02, 0.02, 0.07, 0.41, 0.38, 0.37, 0.33, 0.05, 0.03, 0.03,
    0.03, 0.03, 0.03, 0.03, 0.03, 0.03, 0.03, 0.03, 0.03, 0.03, 0.03, 0.03,
    0.03, 0.03, 0.03, 0.13, 0.10, 0.08, 0.07, 0.06, 0.05, 0.04, 0.04, 0.03,
    0.03, 0.03, 0.03, 0.03, 0.17, 0.15, 0.12, 0.10, 0.08, 0.06, 0.05, 0.04,
    0.03, 0.03, 0.03, 0.03, 0.15, 0.10, 0.08, 0.12, 0.17, 0.14, 0.10, 0.08,
    0.06, 0.04, 0.04, 0.10, 0.15, 0.18, 0.14, 0.10, 0.08, 0.06, 0.05, 0.04,
    0.04, 0.04, 0.04, 0.05, 0.05, 0.06, 0.06, 0.06, 0.05, 0.05, 0.05, 0.05,
    0.05, 0.05, 0.05, 0.08, 0.10, 0.10, 0.10, 0.10, 0.05, 0.05, 0.05, 0.05,
    0.05, 0.05, 0.05, 0.05, 0.05, 0.05, 0.05, 0.05, 0.05, 0.05, 0.05, 0.05,
    0.05]

species = ['Cornus florida', 'Ilex opaca', 'Morella cerifera', 'Vaccinium stamineum',
           'Rhus copallina', 'Phytolacca americana', 'Rubus cuneifolius', 'Nyssa spp.',
           'Rhus toxicodendron']
panel_data = [
    [cornus_upland, cornus_bottomland, cornus_loblolly, cornus_longleaf, cornus_regen],
    [ilex_upland, ilex_bottomland, ilex_loblolly, ilex_longleaf, ilex_regen],
    [morella_upland, morella_bottomland, morella_loblolly, morella_longleaf, morella_regen],
    [vacc_upland, vacc_bottomland, vacc_loblolly, vacc_longleaf, vacc_regen],
    [rcop_upland, rcop_bottomland, rcop_loblolly, rcop_longleaf, rcop_regen],
    [phyt_upland, phyt_bottomland, phyt_loblolly, phyt_longleaf, phyt_regen],
    [rubus_upland, rubus_bottomland, rubus_loblolly, rubus_longleaf, rubus_regen],
    [nyssa_upland, nyssa_bottomland, nyssa_loblolly, nyssa_longleaf, nyssa_regen],
    [rtox_upland, rtox_bottomland, rtox_loblolly, rtox_longleaf, rtox_regen],
]
for grp in panel_data:
    for s in grp:
        assert len(s) == 109, len(s)

# ---- layout / style ----
W, H = 998, 1351
left_px, right_px = 99, 985
panel_px = [(15, 157), (160, 300), (304, 443), (448, 592), (596, 737),
            (739, 878), (881, 1020), (1023, 1160), (1162, 1298)]
ylims = [(-0.27, 6.1), (-0.3, 8.0), (-0.03, 1.0), (-2, 39), (-0.2, 6.0),
         (-0.02, 0.6), (-0.3, 8.2), (-0.3, 7.6), (-0.02, 0.63)]
yticks = [[0, 2, 4, 6], [0, 2, 4, 6], [0.0, 0.2, 0.4, 0.6, 0.8], [0, 10, 20, 30],
          [0, 2, 4], [0.0, 0.2, 0.4], [0, 2, 4, 6], [0, 2, 4],
          [0.0, 0.1, 0.2, 0.3, 0.4, 0.5, 0.6]]

styles = [
    dict(marker='o', mfc='black', ls='-', ms=7),
    dict(marker='v', mfc='white', ls=(0, (9, 5)), ms=7.5),
    dict(marker='s', mfc='black', ls=(0, (7, 4)), ms=6.5),
    dict(marker='D', mfc='white', ls=(0, (7, 4)), ms=6),
    dict(marker='^', mfc='black', ls=(0, (1, 2)), ms=7.5),
]

fig = plt.figure(figsize=(W / 100, H / 100), dpi=100)
x = np.arange(109)
tick_pos = np.arange(0, 109, 6)

axes = []
for k, (top, bot) in enumerate(panel_px):
    ax = fig.add_axes([left_px / W, 1 - bot / H, (right_px - left_px) / W, (bot - top) / H])
    for vals, st in zip(panel_data[k], styles):
        ax.plot(x, vals, color='black', lw=0.9, mec='black', mew=1.0,
                clip_on=False, **st)
    ax.set_xlim(-0.9, 108.6)
    ax.set_ylim(*ylims[k])
    ax.set_yticks(yticks[k])
    ax.set_xticks(tick_pos)
    ax.tick_params(axis='y', direction='out', length=5, labelsize=11, width=1)
    ax.tick_params(axis='x', direction='in', length=5, width=1)
    if k < len(panel_px) - 1:
        ax.set_xticklabels([])
    else:
        ax.set_xticklabels(tick_labels, rotation=45, ha='right',
                           rotation_mode='anchor', fontsize=13.5)
        ax.tick_params(axis='x', pad=5)
    for sp in ax.spines.values():
        sp.set_linewidth(1.2)
    ax.text(0.995, 0.955, species[k], transform=ax.transAxes, ha='right', va='top',
            fontsize=23.5, style='italic')
    axes.append(ax)

axes[0].legend(series_names, loc='upper left', bbox_to_anchor=(0.27, 0.995),
               frameon=False, fontsize=12, handlelength=6.3, handletextpad=1.4,
               labelspacing=0.4, borderaxespad=0, borderpad=0)

fig.text(0.022, 0.50, 'Mean dry edible pulp mass (kg/ha)', rotation=90,
         ha='center', va='center', fontsize=24)

fig.savefig('out.png', dpi=100)
